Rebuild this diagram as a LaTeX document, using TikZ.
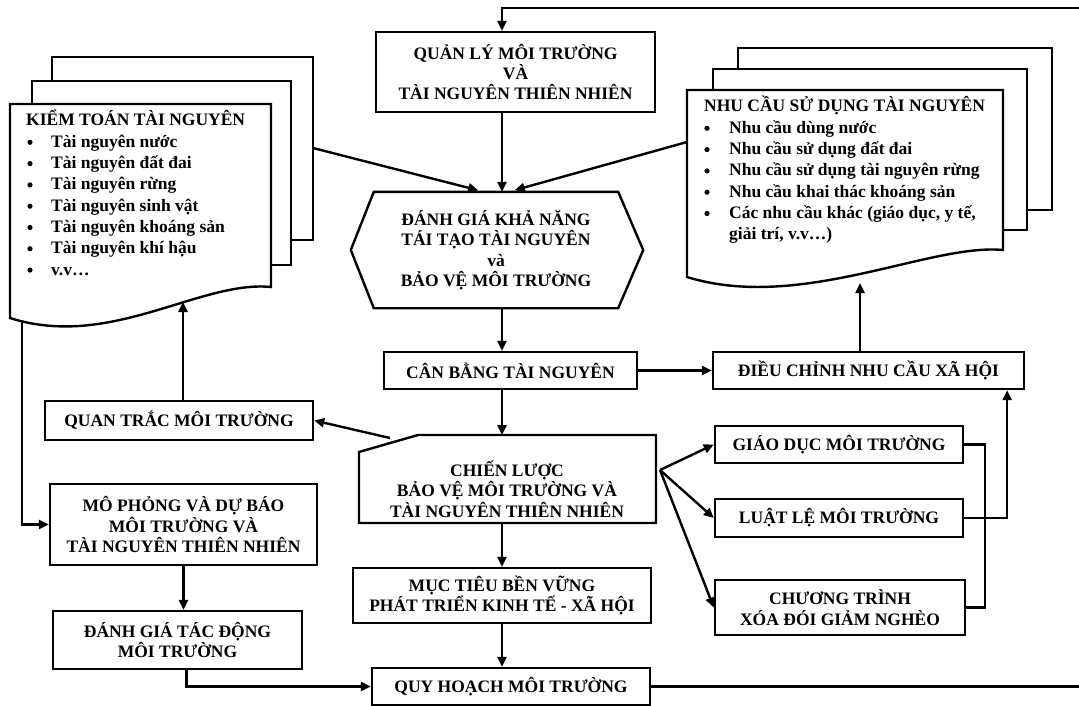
\documentclass[tikz,border=0pt]{standalone}
\usepackage{fontspec}
\setmainfont{Liberation Serif}
\usetikzlibrary{arrows.meta}

\begin{document}
\begin{tikzpicture}[x=1pt,y=-1pt,line width=2.4pt,
	box/.style={draw,fill=white,inner sep=0pt,align=center,
		font=\bfseries\fontsize{17.5}{20.3}\selectfont},
	txt/.style={inner sep=0pt,anchor=base west,font=\bfseries\fontsize{17.5}{20.3}\selectfont},
	arr/.style={-{Triangle[length=10pt,width=9pt]}}]
	\useasboundingbox (0,0) rectangle (1079,706);
	\coordinate (spine) at (502,0);

	% kiem toan tai nguyen
	\draw[fill=white] (52,57) rectangle (313,240);
	\draw[fill=white] (32,81) rectangle (291,265);
	\draw[fill=white] (10,104) -- (271,104) -- (271,287)
		.. controls (200,280) and (110,350) .. (10,318) -- cycle;
	\node[txt] (kt) at (25,126) {KIỂM TOÁN TÀI NGUYÊN};
	\foreach \t [count=\i] in {Tài nguyên nước,Tài nguyên đất đai,Tài nguyên rừng,
		Tài nguyên sinh vật,Tài nguyên khoáng sản,Tài nguyên khí hậu,v.v…}
	{
		\fill (30,{121+21.3*\i}) circle (2.6);
		\node[txt] (kt\i) at (50,{126+21.3*\i}) {\t};
	}
	\coordinate (ktout) at (313,148);
	\coordinate (ktbot) at (183,302);
	\coordinate (ktleft) at (22,322);

	% nhu cau su dung tai nguyen
	\draw[fill=white] (738,48) rectangle (1052,210);
	\draw[fill=white] (713,69) rectangle (1027,230);
	\draw[fill=white] (687,90) -- (1003,90) -- (1003,250)
		.. controls (930,243) and (800,312) .. (687,277) -- cycle;
	\node[txt] (nc) at (703,112) {NHU CẦU SỬ DỤNG TÀI NGUYÊN};
	\foreach \t [count=\i] in {Nhu cầu dùng nước,Nhu cầu sử dụng đất đai,
		Nhu cầu sử dụng tài nguyên rừng,Nhu cầu khai thác khoáng sản,
		{Các nhu cầu khác (giáo dục, y tế,}}
	{
		\fill (707,{107+21.3*\i}) circle (2.6);
		\node[txt] (nc\i) at (728,{112+21.3*\i}) {\t};
	}
	\node[txt] (nc6) at (728,{112+21.3*6}) {giải trí, v.v…)};
	\coordinate (ncout) at (687,142);
	\coordinate (ncbot) at (860,283);

	% cot giua
	\node[box,minimum width=279,minimum height=80] (qlmt) at (515.5,72)
		{QUẢN LÝ MÔI TRƯỜNG\\VÀ\\TÀI NGUYÊN THIÊN NHIÊN};
	\node[align=center,inner sep=0pt,minimum width=242,minimum height=114,
		font=\bfseries\fontsize{17.5}{20.3}\selectfont] (hex) at (496,250)
		{ĐÁNH GIÁ KHẢ NĂNG\\TÁI TẠO TÀI NGUYÊN\\và\\BẢO VỆ MÔI TRƯỜNG};
	\draw (hex.north west) -- (hex.north east) -- ([xshift=25pt]hex.east)
		-- (hex.south east) -- (hex.south west) -- ([xshift=-23pt]hex.west) -- cycle;
	\node[box,minimum width=253,minimum height=37] (canbang) at (510.5,370.5)
		{CÂN BẰNG TÀI NGUYÊN};
	\draw[fill=white] (359,523) -- (359,452) -- (418,435) -- (656,435) -- (656,523) -- cycle;
	\node[align=center,inner sep=0pt,font=\bfseries\fontsize{17.5}{20.3}\selectfont]
		(strat) at (507,489) {CHIẾN LƯỢC\\BẢO VỆ MÔI TRƯỜNG VÀ\\TÀI NGUYÊN THIÊN NHIÊN};
	\coordinate (stratN) at (502,435);
	\coordinate (stratS) at (502,523);
	\coordinate (stratE) at (660,470);
	\coordinate (stratcut) at (390,438);
	\node[box,minimum width=298,minimum height=55] (muctieu) at (502,595.5)
		{MỤC TIÊU BỀN VỮNG\\PHÁT TRIỂN KINH TẾ - XÃ HỘI};
	\node[box,minimum width=278,minimum height=37] (quyhoach) at (511,686.5)
		{QUY HOẠCH MÔI TRƯỜNG};

	% ben phai
	\node[box,minimum width=311,minimum height=37] (dieuchinh) at (868.5,370.5)
		{ĐIỀU CHỈNH NHU CẦU XÃ HỘI};
	\node[box,minimum width=248,minimum height=37] (giaoduc) at (839,444.5)
		{GIÁO DỤC MÔI TRƯỜNG};
	\node[box,minimum width=248,minimum height=38] (luatle) at (839,518)
		{LUẬT LỆ MÔI TRƯỜNG};
	\node[box,minimum width=250,minimum height=55] (ctrinh) at (840,607.5)
		{CHƯƠNG TRÌNH\\XÓA ĐÓI GIẢM NGHÈO};

	% ben trai
	\node[box,minimum width=268,minimum height=39] (quantrac) at (179,420.5)
		{QUAN TRẮC MÔI TRƯỜNG};
	\node[box,minimum width=267,minimum height=81] (mophong) at (183.5,524.5)
		{MÔ PHỎNG VÀ DỰ BÁO\\MÔI TRƯỜNG VÀ\\TÀI NGUYÊN THIÊN NHIÊN};
	\node[box,minimum width=249,minimum height=58] (dgtd) at (177.5,640)
		{ĐÁNH GIÁ TÁC ĐỘNG\\MÔI TRƯỜNG};

	% mui ten
	\draw[arr] (spine |- qlmt.south) -- (spine |- hex.north);
	\draw[arr,shorten >=6pt] (ktout) -- ([xshift=-12pt]hex.north);
	\draw[arr,shorten >=6pt] (ncout) -- ([xshift=13pt]hex.north);
	\draw[arr] (spine |- hex.south) -- (spine |- canbang.north);
	\draw[arr] (canbang) -- (dieuchinh);
	\draw[arr] (ncbot |- dieuchinh.north) -- (ncbot);
	\draw[arr] (spine |- canbang.south) -- (stratN);
	\draw[arr] (stratcut) -- (quantrac.east);
	\draw[arr] (ktbot |- quantrac.north) -- (ktbot);
	\draw[arr] (ktleft) |- (mophong.west);
	\draw[arr] (mophong.south) -- (mophong.south |- dgtd.north);
	\draw[arr] ([xshift=9pt]dgtd.south) |- (quyhoach.west);
	\draw[arr] (stratS) -- (spine |- muctieu.north);
	\draw[arr] (spine |- muctieu.south) -- (spine |- quyhoach.north);
	\foreach \b in {giaoduc,luatle,ctrinh}
		\draw[arr] (stratE) -- (\b.west);
	\draw (giaoduc.east) -- ++(21,0) |- (ctrinh.east);
	\draw[arr] (luatle.east) -| ([xshift=-18pt]dieuchinh.south east);
	\coordinate (loop) at (1084,8);
	\draw[arr] (quyhoach.east) -| (loop) -| (spine |- qlmt.north);
\end{tikzpicture}
\end{document}
